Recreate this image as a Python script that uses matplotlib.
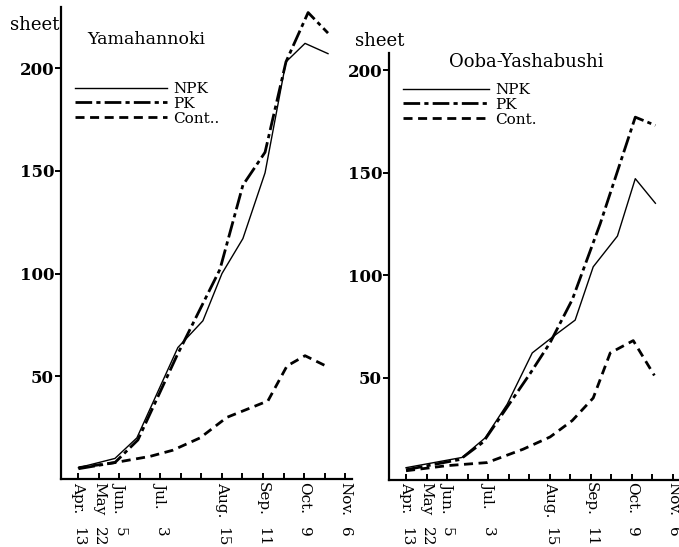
import matplotlib
matplotlib.use("Agg")
import matplotlib.pyplot as plt
import matplotlib.transforms as mtransforms

plt.rcParams['lines.scale_dashes'] = False
SERIF = ['DejaVu Serif']

# ---- data ----
tick_positions = list(range(14))
month_pos = [0, 1, 2, 4, 7, 9, 11, 13]
months = ['Apr.', 'May', 'Jun.', 'Jul.', 'Aug.', 'Sep.', 'Oct.', 'Nov.']
days = ['13', '22', '5', '3', '15', '11', '9', '6']
yticks = [50, 100, 150, 200]

# Yamahannoki
y_npk_x = [0, 1.78, 2.85, 4.85, 6.07, 7.0, 8.02, 9.1, 10.12, 11.05, 12.17]
y_npk = [5.5, 10, 20, 64, 77, 100, 117, 149, 203, 212, 207]
y_pk_x = [0, 1.78, 2.9, 4.8, 6.9, 8.02, 9.1, 10.12, 11.2, 12.17]
y_pk = [5, 8, 19, 60, 102, 143, 159, 203, 227, 217]
y_con_x = [0, 1.78, 3.49, 4.6, 5.93, 7.24, 9.24, 10.17, 11.05, 12.07]
y_con = [5.5, 8, 11, 14, 20, 30, 38, 55, 60, 55]

# Ooba-Yashabushi
o_npk_x = [0, 2.73, 3.85, 4.93, 6.15, 7.17, 8.24, 9.12, 10.3, 11.17, 12.15]
o_npk = [6, 11, 20.5, 37, 62, 70, 78, 104, 119, 147, 135]
o_pk_x = [0, 2.63, 3.76, 6.05, 7.02, 8.1, 9.46, 11.17, 12.15]
o_pk = [5, 10, 18.5, 52, 67, 88, 125, 177, 173]
o_con_x = [0, 2.0, 3.95, 5.7, 7.02, 8.1, 9.12, 9.95, 11.07, 12.1]
o_con = [4.5, 7, 8.5, 15, 21, 29, 40, 62, 68, 51]

W, H = 679, 547
fig = plt.figure(figsize=(W / 100, H / 100), dpi=100)


def px_axes(x0, y_top, x1, y_bot):
    return fig.add_axes([x0 / W, 1 - y_bot / H, (x1 - x0) / W, (y_bot - y_top) / H])


def style_axes(ax, ymax, xmin, xmax):
    ax.set_xlim(xmin, xmax)
    ax.set_ylim(0, ymax)
    for s in ['top', 'right']:
        ax.spines[s].set_visible(False)
    ax.spines['left'].set_linewidth(1.6)
    ax.spines['bottom'].set_linewidth(1.6)
    ax.set_yticks(yticks)
    ax.set_yticklabels([str(v) for v in yticks], fontfamily=SERIF,
                       fontweight='bold', fontsize=12)
    ax.tick_params(axis='y', direction='out', length=4, width=1.4, pad=1)
    ax.set_xticks(tick_positions)
    ax.set_xticklabels([''] * len(tick_positions))
    ax.tick_params(axis='x', direction='in', length=4, width=1.4, pad=2)
    tr = mtransforms.blended_transform_factory(ax.transData, fig.transFigure)
    for p, m, d in zip(month_pos, months, days):
        ax.text(p, 1 - 482 / H, m, transform=tr, rotation=-90, ha='center',
                va='top', fontsize=11, fontfamily=SERIF)
        ax.text(p, 1 - 527 / H, d, transform=tr, rotation=-90, ha='center',
                va='top', fontsize=11, fontfamily=SERIF)


def draw(ax, nx, ny, px_, py, cx, cy):
    l1, = ax.plot(nx, ny, color='black', lw=1.0, label='NPK')
    l2, = ax.plot(px_, py, color='black', lw=2.0, dashes=(12, 3, 3, 3), label='PK')
    l3, = ax.plot(cx, cy, color='black', lw=2.0, dashes=(6.5, 4), label='Cont.')
    return l1, l2, l3


# left panel
ax1 = px_axes(61, 7, 352, 479)
style_axes(ax1, 229.7, -0.85, 13.34)
h = draw(ax1, y_npk_x, y_npk, y_pk_x, y_pk, y_con_x, y_con)
ax1.legend(h, ['NPK', 'PK', 'Cont..'], loc='upper left',
           bbox_to_anchor=(75 / W, 1 - 82 / H), bbox_transform=fig.transFigure,
           frameon=False, borderpad=0, borderaxespad=0, handlelength=6.0,
           handletextpad=0.45, labelspacing=0.05,
           prop={'family': SERIF, 'size': 11})
fig.text(10 / W, 1 - 25 / H, 'sheet', fontsize=13, fontfamily=SERIF, va='center', ha='left')
fig.text(87 / W, 1 - 40 / H, 'Yamahannoki', fontsize=12.5, fontfamily=SERIF, va='center', ha='left')

# right panel
ax2 = px_axes(389, 53, 679, 480)
style_axes(ax2, 208.3, -0.83, 13.3)
h = draw(ax2, o_npk_x, o_npk, o_pk_x, o_pk, o_con_x, o_con)
ax2.legend(h, ['NPK', 'PK', 'Cont.'], loc='upper left',
           bbox_to_anchor=(403 / W, 1 - 83 / H), bbox_transform=fig.transFigure,
           frameon=False, borderpad=0, borderaxespad=0, handlelength=5.6,
           handletextpad=0.45, labelspacing=0.05,
           prop={'family': SERIF, 'size': 11})
fig.text(355 / W, 1 - 41 / H, 'sheet', fontsize=13, fontfamily=SERIF, va='center', ha='left')
fig.text(449 / W, 1 - 62 / H, 'Ooba-Yashabushi', fontsize=13, fontfamily=SERIF, va='center', ha='left')

fig.savefig('out.png', dpi=100)
